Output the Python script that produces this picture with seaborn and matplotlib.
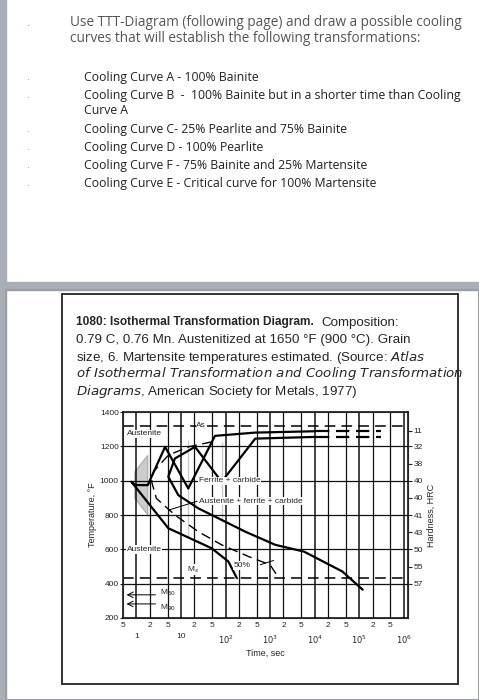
import numpy as np
import pandas as pd
import matplotlib.pyplot as plt
import seaborn as sns
from matplotlib.patches import Rectangle

# --- data ---
start_t = [1.05e4, 465, 58, 14.6, 4.4, 1.8, 0.92, 0.77, 0.92, 1.8, 5.2, 14.6, 49, 116, 180]
start_T = [1288, 1280, 1261, 1235, 1197, 1148, 1052, 994, 897, 800, 723, 674, 606, 529, 432]
start_dash_t = [1.05e4, 3.1e5]
start_dash_T = [1288, 1288]

half_t = [49, 14.6, 5.2, 2.4, 2.2, 2.8, 7.3, 24.5, 82, 330, 1000, 1580]
half_T = [1226, 1197, 1148, 1052, 994, 897, 800, 703, 626, 558, 510, 432]

finish_t = [1.05e4, 465, 82, 20.7, 7.3, 5.2, 5.2, 8.7, 24.5, 82, 277, 1320, 5750, 4.2e4, 1.2e5]
finish_T = [1255, 1245, 1226, 1197, 1129, 1052, 994, 916, 839, 761, 703, 626, 587, 471, 365]
finish_dash_t = [1.05e4, 3.1e5]
finish_dash_T = [1255, 1255]

ms_T = 432
as_T = 1319
m50_T = 335
m90_T = 282

hard_T = [1290, 1200, 1100, 1000, 900, 800, 700, 600, 500, 400]
hard_labels = ['11', '32', '38', '40', '40', '41', '43', '50', '55', '57']

major_t = [1, 10, 1e2, 1e3, 1e4, 1e5, 1e6]
major_labels = ['1', '10', '$10^2$', '$10^3$', '$10^4$', '$10^5$', '$10^6$']
minor_t = [0.5, 2, 5, 20, 50, 200, 500, 2e3, 5e3, 2e4, 5e4, 2e5, 5e5]
minor_labels = ['5', '2', '5', '2', '5', '2', '5', '2', '5', '2', '5', '2', '5']

sns.set_style('white')
plt.rcParams['font.family'] = ['Liberation Sans', 'DejaVu Sans']

fig = plt.figure(figsize=(4.79, 7.0), dpi=100)
fig.patch.set_facecolor('white')

# page decoration: left grey bar and separator between slides
fig.patches.append(Rectangle((0, 0), 6 / 479, 1, transform=fig.transFigure, color='#a9adb5', zorder=0))
fig.patches.append(Rectangle((0, 1 - 290 / 700), 1, 8 / 700, transform=fig.transFigure, color='#a9adb5', zorder=0))
fig.patches.append(Rectangle((6 / 479, 0), 473 / 479, 410 / 700, transform=fig.transFigure,
                             fill=False, ec='#9a9ea6', lw=1.5, zorder=0))
fig.patches.append(Rectangle((62 / 479, 1 - 684 / 700), 396 / 479, 390 / 700, transform=fig.transFigure,
                             fill=False, ec='#222222', lw=1.3, zorder=1))

# top slide text
tfont = dict(family=['Open Sans', 'DejaVu Sans'], fontsize=9.8, color='#555555')
fig.text(70 / 479, 1 - 22 / 700, 'Use TTT-Diagram (following page) and draw a possible cooling', va='center', **tfont)
fig.text(70 / 479, 1 - 38 / 700, 'curves that will establish the following transformations:', va='center', **tfont)
fig.text(27 / 479, 1 - 23 / 700, '.', color='#2bb3a0', fontsize=9, va='center')
items = ['Cooling Curve A - 100% Bainite',
         'Cooling Curve B  -  100% Bainite but in a shorter time than Cooling',
         'Curve A',
         'Cooling Curve C- 25% Pearlite and 75% Bainite',
         'Cooling Curve D - 100% Pearlite',
         'Cooling Curve F - 75% Bainite and 25% Martensite',
         'Cooling Curve E - Critical curve for 100% Martensite']
item_y = [77, 95, 110, 129, 147, 165, 183]
for txt, y in zip(items, item_y):
    fig.text(84 / 479, 1 - y / 700, txt, va='center', family=['Open Sans', 'DejaVu Sans'],
             fontsize=8.8, color='#222222')
    if txt != 'Curve A':
        fig.text(26 / 479, 1 - y / 700, '.', color='#2bb3a0', fontsize=7, va='center')

# diagram caption
fig.text(76 / 479, 1 - 322 / 700, '1080: Isothermal Transformation Diagram.', fontsize=8.6,
         fontweight='bold', va='center')
fig.text(321 / 479, 1 - 323 / 700, 'Composition:', fontsize=9.6, va='center')
cap = ['0.79 C, 0.76 Mn. Austenitized at 1650 °F (900 °C). Grain',
       'size, 6. Martensite temperatures estimated. (Source: $\\it{Atlas}$',
       '$\\it{of\\ Isothermal\\ Transformation\\ and\\ Cooling\\ Transformation}$',
       '$\\it{Diagrams}$, American Society for Metals, 1977)']
for i, line in enumerate(cap):
    fig.text(76 / 479, 1 - (340 + 17 * i) / 700, line, fontsize=9.6, va='center')

# axes
ax = fig.add_axes([123 / 479, 1 - 618 / 700, 285 / 479, 206 / 700])
ax.set_xscale('log')
ax.set_xlim(0.5, 1.25e6)
ax.set_ylim(200, 1400)

for t in minor_t[1:] + major_t:
    ax.axvline(t, color='#111111', lw=1.1 if t in major_t else 0.9, zorder=1)
for T in [400, 600, 800, 1000, 1200]:
    ax.axhline(T, color='#111111', lw=0.9, zorder=1)

sns.lineplot(x=start_t, y=start_T, sort=False, ax=ax, color='black', lw=1.6, zorder=3)
sns.lineplot(x=start_dash_t, y=start_dash_T, sort=False, ax=ax, color='black', lw=1.6,
             linestyle=(0, (6, 3)), zorder=3)
sns.lineplot(x=half_t, y=half_T, sort=False, ax=ax, color='black', lw=1.0,
             linestyle=(0, (7, 4)), zorder=3)
sns.lineplot(x=finish_t, y=finish_T, sort=False, ax=ax, color='black', lw=1.6, zorder=3)
sns.lineplot(x=finish_dash_t, y=finish_dash_T, sort=False, ax=ax, color='black', lw=1.6,
             linestyle=(0, (6, 3)), zorder=3)
ax.axhline(ms_T, color='black', lw=1.1, linestyle=(0, (7, 4)), zorder=3)
ax.axhline(as_T, color='black', lw=1.1, linestyle=(0, (7, 4)), zorder=3)

box = dict(facecolor='white', edgecolor='none', pad=0.5)
fs = 6
ax.text(0.6, 1265, 'Austenite', fontsize=fs, bbox=box, zorder=4)
ax.text(0.6, 600, 'Austenite', fontsize=fs, va='center', bbox=box, zorder=4)
ax.text(25, 1000, 'Ferrite + carbide', fontsize=fs, va='center', bbox=box, zorder=4)
ax.text(25, 880, 'Austenite + ferrite + carbide', fontsize=fs, va='center', bbox=box, zorder=4)
ax.plot([23, 5.5], [880, 830], color='black', lw=0.7, zorder=4)
ax.text(22, as_T, 'As', fontsize=fs, va='center', bbox=box, zorder=4)
ax.text(150, 505, '50%', fontsize=fs, va='center', bbox=box, zorder=4)
ax.plot([600, 1200], [510, 535], color='black', lw=0.7, zorder=4)
ax.text(14, 452, 'M$_s$', fontsize=fs, va='bottom', bbox=box, zorder=4)
ax.text(3.3, m50_T + 15, 'M$_{50}$', fontsize=fs, va='center', zorder=4)
ax.text(3.3, m90_T - 25, 'M$_{90}$', fontsize=fs, va='center', zorder=4)
ax.annotate('', xy=(0.52, m50_T), xytext=(3.1, m50_T),
            arrowprops=dict(arrowstyle='->', lw=0.7, color='black'))
ax.annotate('', xy=(0.52, m90_T), xytext=(3.1, m90_T),
            arrowprops=dict(arrowstyle='->', lw=0.7, color='black'))

ax.set_yticks([200, 400, 600, 800, 1000, 1200, 1400])
ax.tick_params(axis='y', labelsize=6, length=2, pad=1)
ax.set_xticks(major_t, major_labels)
ax.set_xticks(minor_t, minor_labels, minor=True)
ax.tick_params(axis='x', which='major', labelsize=6, length=0, pad=11)
ax.tick_params(axis='x', which='minor', labelsize=6, length=2, pad=1)
ax.set_xlabel('Time, sec', fontsize=6.5, labelpad=2)
ax.set_ylabel('Temperature, °F', fontsize=6.5, labelpad=2)
for s in ax.spines.values():
    s.set_color('black')
    s.set_linewidth(1.1)

ax2 = ax.twinx()
ax2.set_ylim(200, 1400)
ax2.set_yticks(hard_T, hard_labels)
ax2.tick_params(axis='y', labelsize=6, length=3, pad=1, direction='out')
ax2.set_ylabel('Hardness, HRC', fontsize=6.5, labelpad=3)

fig.savefig('out.png', dpi=100)
